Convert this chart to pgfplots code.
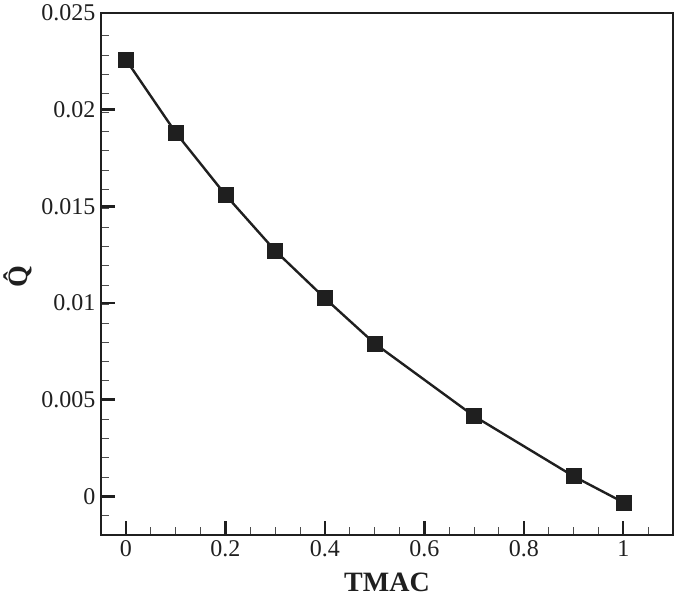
\documentclass[border=0pt]{standalone}
\usepackage{pgfplots}
\pgfplotsset{compat=1.18}
\usepackage{fontspec}
\setmainfont{Liberation Serif}
\begin{document}
\begin{tikzpicture}
% invisible frame to keep the page at the reference size (675 x 600)
\path (-101pt,-65pt) rectangle (574pt,535pt);
\begin{axis}[
  at={(0,0)}, anchor=south west,
  width=572pt, height=522pt,
  scale only axis,
  xmin=-0.05, xmax=1.1,
  ymin=-0.002, ymax=0.025,
  axis line style={line width=2.6pt, black!88},
  xtick={0,0.2,0.4,0.6,0.8,1},
  xticklabels={0,0.2,0.4,0.6,0.8,1},
  minor xtick={0.05,0.1,...,1.05},
  ytick={0,0.005,0.01,0.015,0.02,0.025},
  yticklabels={0,0.005,0.01,0.015,0.02,0.025},
  minor ytick={-0.001,0.001,0.002,...,0.024},
  scaled y ticks=false,
  xtick pos=bottom, ytick pos=left,
  tick align=inside,
  major tick length=14pt, minor tick length=8pt,
  major tick style={line width=2.4pt, black!88},
  minor tick style={line width=0.9pt, black!70},
  ticklabel style={font=\fontsize{24}{28}\selectfont, black!88},
  xticklabel style={yshift=-2pt},
  yticklabel style={xshift=-2pt},
  xlabel={\textbf{TMAC}},
  ylabel={\textbf{\^{Q}}},
  label style={font=\fontsize{28}{32}\selectfont, black!88},
  xlabel style={at={(axis description cs:0.5,-0.09)}, anchor=center},
  ylabel style={at={(axis description cs:-0.145,0.5)}, anchor=center, rotate=0},
]
\addplot[line width=2.4pt, black!88, mark=square*, mark size=7.5pt, mark options={fill=black!88, draw=black!88, line width=0.5pt}]
coordinates {
  (0,0.02259) (0.1,0.01882) (0.2,0.01560) (0.3,0.01271) (0.4,0.01025)
  (0.5,0.00791) (0.7,0.00415) (0.9,0.00104) (1.0,-0.00031)
};
\end{axis}
\end{tikzpicture}
\end{document}
